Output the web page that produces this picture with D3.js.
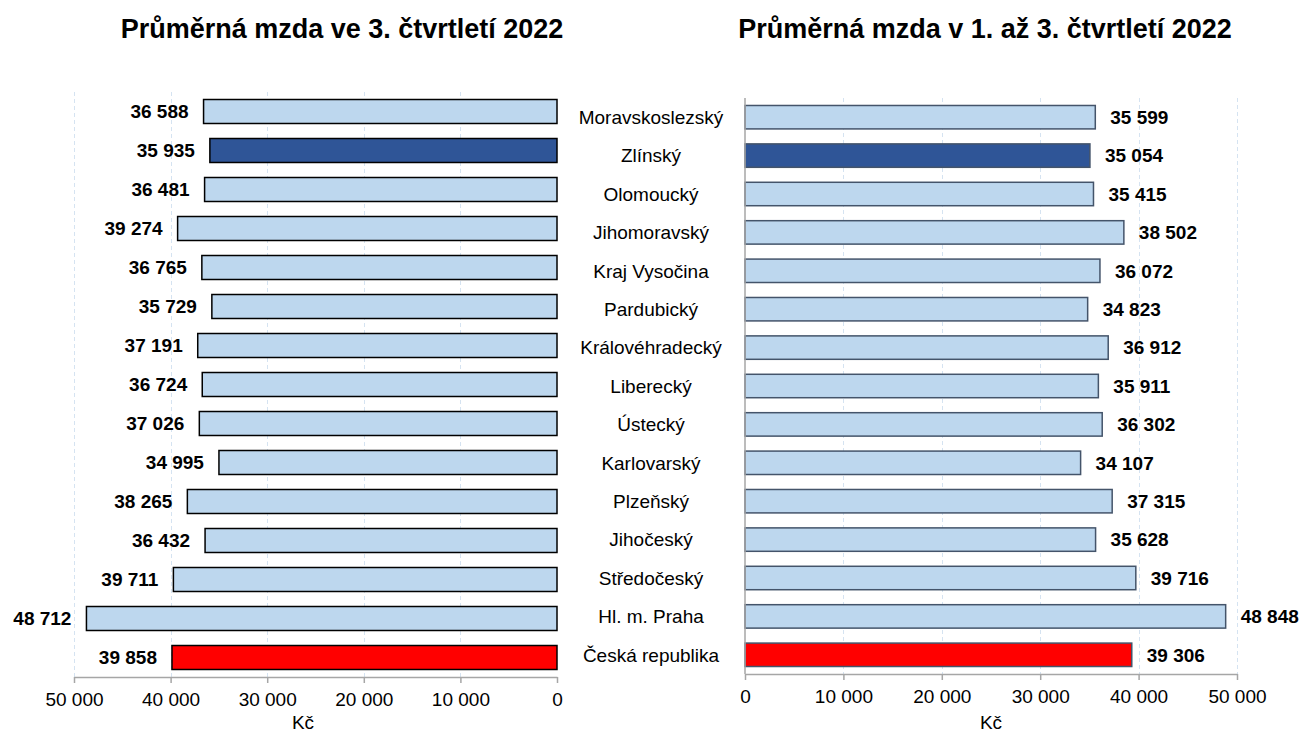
<!DOCTYPE html>
<html>
<head>
<meta charset="utf-8">
<script src="https://cdn.jsdelivr.net/npm/d3@7"></script>
<style>
  body { margin: 0; background: #fff; }
  svg { display: block; font-family: Arial, "Liberation Sans", sans-serif; }
</style>
</head>
<body>
<div id="chart"></div>
<script>
// --- Data ---
const regions = [
  "Moravskoslezský", "Zlínský", "Olomoucký", "Jihomoravský", "Kraj Vysočina",
  "Pardubický", "Královéhradecký", "Liberecký", "Ústecký", "Karlovarský",
  "Plzeňský", "Jihočeský", "Středočeský", "Hl. m. Praha", "Česká republika"
];
const wageQ3 = [36588, 35935, 36481, 39274, 36765, 35729, 37191, 36724, 37026, 34995, 38265, 36432, 39711, 48712, 39858];
const wageQ1toQ3 = [35599, 35054, 35415, 38502, 36072, 34823, 36912, 35911, 36302, 34107, 37315, 35628, 39716, 48848, 39306];
const xTicks = [0, 10000, 20000, 30000, 40000, 50000];
const titles = ["Průměrná mzda ve 3. čtvrtletí 2022", "Průměrná mzda v 1. až 3. čtvrtletí 2022"];
const unitLabel = "Kč";
const highlightRegion = "Zlínský";
const totalRegion = "Česká republika";

const W = 1303, H = 733;
const fmt = (v) => d3.format(",")(v).replace(/,/g, " ");
const barColor = (name) =>
  name === totalRegion ? "#ff0000" : name === highlightRegion ? "#2f5597" : "#bdd7ee";

const svg = d3.select("#chart").append("svg").attr("width", W).attr("height", H);

// --- Panel builder ---
function drawPanel(opts) {
  const { values, x, y, axisY, side, stroke, title, titleX, unitX, unitY } = opts;
  const g = svg.append("g");

  // gridlines
  g.selectAll("line.grid")
    .data(xTicks.filter((t) => t !== 0))
    .join("line")
    .attr("class", "grid")
    .attr("x1", (d) => Math.round(x(d)) + 0.5)
    .attr("x2", (d) => Math.round(x(d)) + 0.5)
    .attr("y1", y.range()[0])
    .attr("y2", axisY)
    .attr("stroke", "#d5e3f1")
    .attr("stroke-width", 1)
    .attr("stroke-dasharray", "4,3");

  const rows = values.map((v, i) => ({ name: regions[i], value: v }));

  // bars
  g.selectAll("rect.bar")
    .data(rows)
    .join("rect")
    .attr("class", "bar")
    .attr("x", (d) => Math.min(x(0), x(d.value)))
    .attr("y", (d) => y(d.name))
    .attr("width", (d) => Math.abs(x(d.value) - x(0)))
    .attr("height", y.bandwidth())
    .attr("fill", (d) => barColor(d.name))
    .attr("stroke", stroke)
    .attr("stroke-width", 1.5);

  // value labels
  g.selectAll("text.val")
    .data(rows)
    .join("text")
    .attr("class", "val")
    .attr("x", (d) => (side === "left" ? x(d.value) - 15 : x(d.value) + 15))
    .attr("y", (d) => y(d.name) + y.bandwidth() / 2)
    .attr("dy", "0.36em")
    .attr("text-anchor", side === "left" ? "end" : "start")
    .attr("font-size", 19)
    .attr("font-weight", "bold")
    .attr("fill", "#000")
    .text((d) => fmt(d.value));

  // x axis
  const axis = g.append("g")
    .attr("transform", `translate(0,${axisY})`)
    .call(d3.axisBottom(x).tickValues(xTicks).tickFormat(fmt).tickSize(6).tickSizeOuter(0).tickPadding(10));
  axis.select(".domain").attr("stroke", "#a6a6a6").attr("stroke-width", 1.5);
  axis.selectAll(".tick line").attr("stroke", "#a6a6a6").attr("stroke-width", 1.5);
  axis.selectAll(".tick text")
    .attr("font-size", 19)
    .attr("font-family", "Arial, 'Liberation Sans', sans-serif")
    .attr("fill", "#000");

  // unit label
  g.append("text")
    .attr("x", unitX)
    .attr("y", unitY)
    .attr("text-anchor", "middle")
    .attr("font-size", 19)
    .attr("fill", "#000")
    .text(unitLabel);

  // title
  g.append("text")
    .attr("x", titleX)
    .attr("y", 38)
    .attr("text-anchor", "middle")
    .attr("font-size", 27)
    .attr("font-weight", "bold")
    .attr("fill", "#000")
    .text(title);

  return g;
}

// --- Left panel (3rd quarter) ---
const xLeft = d3.scaleLinear().domain([0, 50000]).range([557, 74]);
const yLeft = d3.scaleBand().domain(regions).range([92, 677]).paddingInner(0.385).paddingOuter(0.1925);
drawPanel({
  values: wageQ3, x: xLeft, y: yLeft, axisY: 677, side: "left",
  stroke: "#000", title: titles[0], titleX: 342, unitX: 303, unitY: 729
});

// --- Right panel (1st-3rd quarter) ---
const xRight = d3.scaleLinear().domain([0, 50000]).range([745, 1237]);
const yRight = d3.scaleBand().domain(regions).range([98, 674]).paddingInner(0.39).paddingOuter(0.195);
const right = drawPanel({
  values: wageQ1toQ3, x: xRight, y: yRight, axisY: 674, side: "right",
  stroke: "#44546a", title: titles[1], titleX: 985, unitX: 991, unitY: 729
});

// right panel vertical axis line
right.append("line")
  .attr("x1", xRight(0)).attr("x2", xRight(0))
  .attr("y1", yRight.range()[0]).attr("y2", 674)
  .attr("stroke", "#a6a6a6").attr("stroke-width", 1.5);

// --- Category labels in the middle ---
svg.append("g")
  .selectAll("text")
  .data(regions)
  .join("text")
  .attr("x", 651)
  .attr("y", (d) => yRight(d) + yRight.bandwidth() / 2)
  .attr("dy", "0.36em")
  .attr("text-anchor", "middle")
  .attr("font-size", 19)
  .attr("fill", "#000")
  .text((d) => d);
</script>
</body>
</html>
